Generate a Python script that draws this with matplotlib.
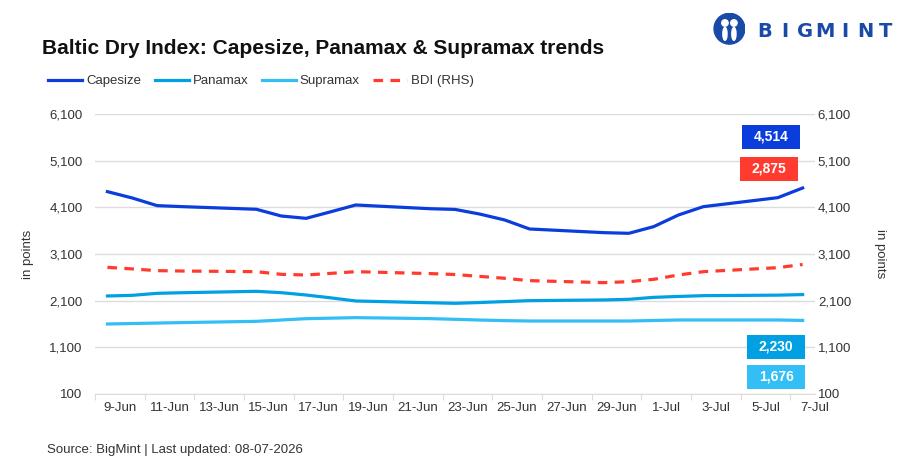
import numpy as np
import pandas as pd
import matplotlib
matplotlib.use("Agg")
import matplotlib.pyplot as plt
from matplotlib.patches import Rectangle, Circle, Ellipse

# data (weekday assessments)
dates = pd.to_datetime([
    "2026-06-09", "2026-06-10", "2026-06-11", "2026-06-12", "2026-06-15",
    "2026-06-16", "2026-06-17", "2026-06-18", "2026-06-19", "2026-06-22",
    "2026-06-23", "2026-06-24", "2026-06-25", "2026-06-26", "2026-06-29",
    "2026-06-30", "2026-07-01", "2026-07-02", "2026-07-03", "2026-07-06",
    "2026-07-07",
])
capesize = [4436, 4300, 4136, 4115, 4058, 3914, 3864, 4005, 4150, 4070, 4055,
            3955, 3829, 3636, 3557, 3543, 3686, 3936, 4114, 4307, 4514]
panamax = [2200, 2214, 2257, 2270, 2300, 2271, 2221, 2160, 2093, 2055, 2043,
           2060, 2080, 2100, 2115, 2129, 2171, 2190, 2207, 2218, 2230]
supramax = [1600, 1610, 1620, 1630, 1657, 1685, 1714, 1725, 1736, 1715, 1700,
            1685, 1672, 1664, 1664, 1664, 1675, 1686, 1686, 1686, 1676]
bdi = [2814, 2780, 2743, 2735, 2721, 2664, 2650, 2685, 2721, 2680, 2660,
       2620, 2579, 2529, 2486, 2507, 2557, 2650, 2721, 2807, 2875]
yticks = [100, 1100, 2100, 3100, 4100, 5100, 6100]

c_cape = "#0a3ddb"
c_pana = "#00a0e3"
c_supra = "#33bff5"
c_bdi = "#ff3b30"
txt = "#333333"
grid = "#dcdcdc"

plt.rcParams["font.family"] = ["Liberation Sans", "DejaVu Sans"]

fig = plt.figure(figsize=(9.05, 4.71), dpi=100)
ax = fig.add_axes([0.105, 0.1635, 0.7956, 0.5945])
ax2 = ax.twinx()

ax.plot(dates, capesize, color=c_cape, lw=2.3, label="Capesize", solid_joinstyle="round")
ax.plot(dates, panamax, color=c_pana, lw=2.3, label="Panamax", solid_joinstyle="round")
ax.plot(dates, supramax, color=c_supra, lw=2.3, label="Supramax", solid_joinstyle="round")
ax2.plot(dates, bdi, color=c_bdi, lw=2.3, dashes=(3, 2.3), label="BDI (RHS)")

half = pd.Timedelta(hours=12)
ax.set_xlim(dates[0] - half, dates[-1] + half)
for a in (ax, ax2):
    a.set_ylim(100, 6100)
    a.set_yticks(yticks)
    a.set_yticklabels([f"{v:,}" for v in yticks], fontsize=9.5, color=txt)
    for s in a.spines.values():
        s.set_visible(False)
ax.tick_params(axis="y", length=0, pad=9)
ax2.tick_params(axis="y", length=0, pad=2)
ax.spines["bottom"].set_visible(True)
ax.spines["bottom"].set_color(grid)
ax.grid(axis="y", color=grid, lw=1)
ax.set_axisbelow(True)

# x ticks: marks between every 2 days, labels centred in each 2-day slot
lab_dates = pd.date_range(dates[0], dates[-1], freq="2D")
ax.set_xticks(list(lab_dates - half))
ax.tick_params(axis="x", which="major", length=4, color=grid, labelbottom=False)
ax.set_xticks(list(lab_dates + half), minor=True)
ax.set_xticklabels([f"{d.day}-{d.strftime('%b')}" for d in lab_dates], minor=True,
                   fontsize=9.5, color=txt)
ax.tick_params(axis="x", which="minor", length=0, pad=6)

ax.set_ylabel("in points", fontsize=9.5, color=txt, labelpad=11)
ax2.set_ylabel("in points", fontsize=9.5, color=txt, rotation=270, labelpad=25)

# end value boxes
boxes = [(capesize[-1], c_cape, 0.939, 0.918), (bdi[-1], c_bdi, 0.936, 0.804),
         (panamax[-1], c_pana, 0.946, 0.168), (supramax[-1], c_supra, 0.946, 0.061)]
for val, col, bx, by in boxes:
    ax.add_patch(Rectangle((bx - 0.0403, by - 0.043), 0.0806, 0.086, transform=ax.transAxes,
                           facecolor=col, edgecolor="none", zorder=5, clip_on=False))
    ax.text(bx, by, f"{val:,}", transform=ax.transAxes, ha="center", va="center",
            color="white", fontsize=10, fontweight="bold", zorder=6)

# legend
h1, l1 = ax.get_legend_handles_labels()
h2, l2 = ax2.get_legend_handles_labels()
fig.legend(h1 + h2, l1 + l2, loc="center left", bbox_to_anchor=(0.040, 0.828), ncol=4,
           frameon=False, fontsize=9.5, handlelength=2.6, handletextpad=0.3,
           columnspacing=1.0, labelcolor=txt)

fig.text(0.046, 0.898, "Baltic Dry Index: Capesize, Panamax & Supramax trends",
         fontsize=15, fontweight="bold", color="#111111", va="center")
fig.text(0.052, 0.044, "Source: BigMint | Last updated: 08-07-2026", fontsize=9.5,
         color=txt, va="center")

# logo
logo_blue = "#1a4aa8"
la = fig.add_axes([0.788, 0.905, 0.036, 0.068])
la.set_xlim(0, 1)
la.set_ylim(0, 1)
la.set_aspect("equal")
la.axis("off")
la.add_patch(Circle((0.5, 0.5), 0.48, color=logo_blue))
la.add_patch(Circle((0.36, 0.68), 0.1, color="white"))
la.add_patch(Circle((0.64, 0.68), 0.1, color="white"))
la.add_patch(Ellipse((0.36, 0.34), 0.13, 0.4, color="white"))
la.add_patch(Ellipse((0.64, 0.34), 0.13, 0.4, color="white"))
for i, ch in enumerate("BIGMINT"):
    fig.text(0.845 + i * 0.0222, 0.933, ch, fontsize=14, fontweight="heavy",
             color=logo_blue, ha="center", va="center", family="DejaVu Sans")

fig.savefig("out.png", dpi=100)
